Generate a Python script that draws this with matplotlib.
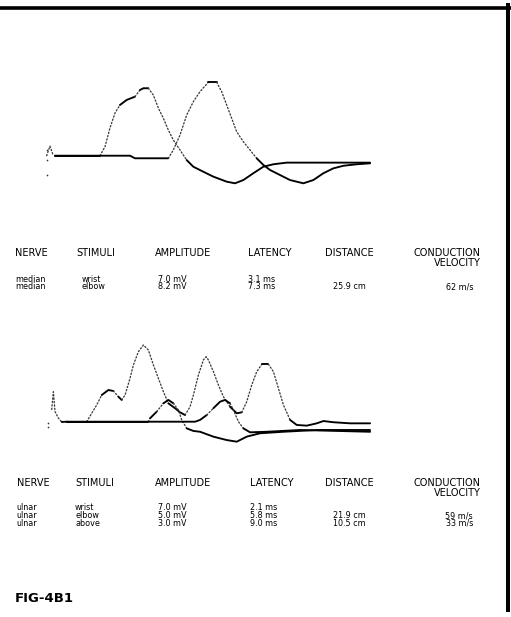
import matplotlib
matplotlib.use("Agg")
import matplotlib.pyplot as plt
import numpy as np

# ------------------------------------------------------------------
# Data (time in ms, amplitude in mV)
# ------------------------------------------------------------------
# Median nerve
median_wrist_t = [0.4, 3.1, 3.4, 3.7, 4.0, 4.3, 4.7, 5.2, 5.5, 5.7, 6.0, 6.3, 6.6, 6.9, 7.2,
                  7.5, 7.9, 8.3, 8.7, 9.3, 9.9, 10.7, 11.2, 11.7, 12.3, 12.9, 13.5, 14.3, 19.3]
median_wrist_a = [0, 0, 0.66, 2.04, 3.14, 3.73, 4.10, 4.34, 4.83, 4.96, 4.96, 4.46, 3.51, 2.76, 1.89,
                  1.15, 0.42, -0.32, -0.81, -1.18, -1.54, -1.91, -2.03, -1.79, -1.29, -0.81, -0.63, -0.51, -0.51]
median_elbow_t = [0.4, 4.9, 5.2, 7.2, 7.5, 7.9, 8.3, 8.7, 9.1, 9.6, 10.1, 10.4, 10.7, 11.0, 11.3,
                  11.7, 12.1, 12.5, 12.9, 13.3, 13.9, 14.5, 15.3, 15.9, 16.5, 17.1, 17.7, 18.5, 19.3]
median_elbow_a = [0, 0, -0.19, -0.19, 0.42, 1.52, 2.99, 3.97, 4.71, 5.40, 5.40, 4.71, 3.73, 2.75, 1.76,
                  1.03, 0.42, -0.19, -0.68, -1.05, -1.42, -1.79, -2.03, -1.79, -1.29, -0.93, -0.74, -0.63, -0.56]
median_artifact_t = [-0.1, 0.1, 0.3]
median_artifact_a = [0.0, 0.71, 0.0]
median_dots_t = [-0.1, -0.1, -0.1]
median_dots_a = [0.42, -0.32, -1.42]

# Ulnar nerve
ulnar_wrist_t = [0.9, 2.1, 2.4, 2.7, 3.0, 3.4, 3.7, 4.0, 4.2, 4.4, 4.7, 4.9, 5.2, 5.5, 5.8, 6.1, 6.4,
                 6.7, 7.0, 7.4, 7.7, 8.0, 8.3, 8.5, 8.8, 9.1, 9.27, 9.4, 9.7, 10.0, 10.3, 10.7, 11.1,
                 11.4, 11.7, 12.0, 12.3, 12.6, 13.0, 13.3, 13.6, 13.9, 14.3, 14.7, 15.3, 15.9, 16.3,
                 16.9, 17.9, 19.1]
ulnar_wrist_a = [0, 0, 0.62, 1.23, 1.96, 2.33, 2.26, 1.84, 1.60, 1.96, 3.19, 4.17, 5.15, 5.64, 5.27,
                 4.17, 3.19, 2.21, 1.35, 0.99, 0.69, 0.49, 1.10, 1.96, 3.43, 4.54, 4.78, 4.54, 3.68,
                 2.70, 1.84, 1.10, 0.62, 0.69, 1.47, 2.70, 3.68, 4.22, 4.22, 3.68, 2.46, 1.23, 0.13,
                 -0.24, -0.29, -0.12, 0.05, -0.04, -0.12, -0.12]
ulnar_elbow_t = [0.9, 5.8, 5.9, 6.3, 6.7, 7.0, 7.3, 7.6, 7.8, 8.1, 8.5, 8.9, 9.7, 10.5, 11.1, 11.7,
                 12.5, 13.9, 15.9, 19.1]
ulnar_elbow_a = [0, 0, 0.25, 0.74, 1.35, 1.60, 1.35, 0.86, 0.13, -0.49, -0.68, -0.74, -1.10, -1.35,
                 -1.47, -1.10, -0.85, -0.74, -0.61, -0.61]
ulnar_above_t = [0.9, 8.6, 8.9, 9.3, 9.7, 10.1, 10.4, 10.7, 10.9, 11.2, 11.5, 11.9, 12.9, 14.9, 19.1]
ulnar_above_a = [0, 0, 0.13, 0.49, 0.99, 1.47, 1.60, 1.35, 0.86, 0, -0.49, -0.78, -0.74, -0.61, -0.74]
ulnar_artifact_t = [0.0, 0.1, 0.2, 0.4, 0.6, 0.9]
ulnar_artifact_a = [0.9, 2.2, 0.74, 0.27, -0.02, 0.0]
ulnar_dots_t = [-0.2, -0.2]
ulnar_dots_a = [-0.10, -0.37]

# Tables
headers = ["NERVE", "STIMULI", "AMPLITUDE", "LATENCY", "DISTANCE", "CONDUCTION\nVELOCITY"]
median_nerve = ["median", "median"]
median_stimuli = ["wrist", "elbow"]
median_amplitude = ["7.0 mV", "8.2 mV"]
median_latency = ["3.1 ms", "7.3 ms"]
median_distance = ["", "25.9 cm"]
median_velocity = ["", "62 m/s"]

ulnar_nerve = ["ulnar", "ulnar", "ulnar"]
ulnar_stimuli = ["wrist", "elbow", "above"]
ulnar_amplitude = ["7.0 mV", "5.0 mV", "3.0 mV"]
ulnar_latency = ["2.1 ms", "5.8 ms", "9.0 ms"]
ulnar_distance = ["", "21.9 cm", "10.5 cm"]
ulnar_velocity = ["", "59 m/s", "33 m/s"]

fig_label = "FIG-4B1"

# ------------------------------------------------------------------
# Layout
# ------------------------------------------------------------------
W, H = 511, 617
PX_PER_MS = 16.67
PX_PER_MV = 13.6

fig = plt.figure(figsize=(W / 100, H / 100), dpi=100)
fig.patch.set_facecolor("white")

bg = fig.add_axes([0, 0, 1, 1], zorder=0)
bg.set_xlim(0, W)
bg.set_ylim(H, 0)
bg.axis("off")

# scanned frame lines (top and right)
bg.plot([0, W], [7.6, 7.6], color="black", lw=2.6, solid_capstyle="butt")
bg.plot([508.2, 508.2], [3, 612], color="black", lw=2.9, solid_capstyle="butt")


def make_wave_axes(left_px, right_px, top_px, bottom_px, t0_px, base_px):
    ax = fig.add_axes([left_px / W, 1 - bottom_px / H,
                       (right_px - left_px) / W, (bottom_px - top_px) / H], zorder=2)
    ax.set_xlim((left_px - t0_px) / PX_PER_MS, (right_px - t0_px) / PX_PER_MS)
    ax.set_ylim((base_px - bottom_px) / PX_PER_MV, (base_px - top_px) / PX_PER_MV)
    ax.axis("off")
    ax.patch.set_alpha(0)
    return ax


def draw_trace(ax, t, a, slope_limit=1.0):
    t = np.asarray(t, dtype=float)
    a = np.asarray(a, dtype=float)
    dx = np.diff(t) * PX_PER_MS
    dy = np.diff(a) * PX_PER_MV
    steep = np.abs(dy) > slope_limit * np.abs(dx)
    start = 0
    n = len(steep)
    for i in range(1, n + 1):
        if i == n or steep[i] != steep[start]:
            st, sa = t[start:i + 1], a[start:i + 1]
            if steep[start]:
                ax.plot(st, sa, color="#3a3a3a", lw=0.95, ls=(0, (1.0, 1.6)),
                        dash_capstyle="round")
            else:
                ax.plot(st, sa, color="black", lw=1.35, solid_capstyle="round",
                        solid_joinstyle="round")
            start = i


# Median waveforms
ax1 = make_wave_axes(40, 380, 70, 200, t0_px=48.3, base_px=155.7)
draw_trace(ax1, median_wrist_t, median_wrist_a)
draw_trace(ax1, median_elbow_t, median_elbow_a)
draw_trace(ax1, median_artifact_t, median_artifact_a)
ax1.scatter(median_dots_t, median_dots_a, s=1.5, color="#333", linewidths=0)

# Ulnar waveforms
ax2 = make_wave_axes(40, 380, 330, 450, t0_px=51.7, base_px=421.7)
draw_trace(ax2, ulnar_wrist_t, ulnar_wrist_a)
draw_trace(ax2, ulnar_elbow_t, ulnar_elbow_a)
draw_trace(ax2, ulnar_above_t, ulnar_above_a)
draw_trace(ax2, ulnar_artifact_t, ulnar_artifact_a)
ax2.scatter(ulnar_dots_t, ulnar_dots_a, s=1.5, color="#333", linewidths=0)

# Tables
FONT = "DejaVu Sans"
HFS = 7.0
RFS = 5.8


def draw_table(header_y, row_y0, row_dy, header_x, row_x, cols):
    for k, h in enumerate(headers):
        if "\n" in h:
            l1, l2 = h.split("\n")
            bg.text(481, header_y, l1, ha="right", va="center", fontsize=HFS, family=FONT)
            bg.text(481, header_y + 9.5, l2, ha="right", va="center", fontsize=HFS, family=FONT)
        else:
            bg.text(header_x[k], header_y, h, ha="left", va="center", fontsize=HFS, family=FONT)
    nrows = len(cols[0])
    for r in range(nrows):
        y = row_y0 + r * row_dy
        for k, col in enumerate(cols):
            s = col[r]
            if not s:
                continue
            if k == 5:
                bg.text(473, y, s, ha="right", va="baseline", fontsize=RFS, family=FONT)
            else:
                bg.text(row_x[k], y, s, ha="left", va="baseline", fontsize=RFS, family=FONT)


# row positions given as text baselines
draw_table(253.3, 281.8, 7.6,
           [15, 76.7, 155, 248, 325],
           [15, 82, 158, 248, 333],
           [median_nerve, median_stimuli, median_amplitude, median_latency,
            median_distance, median_velocity])

draw_table(483.3, 510.5, 7.6,
           [16.7, 75, 155, 250, 325],
           [16.7, 75, 158, 250, 333],
           [ulnar_nerve, ulnar_stimuli, ulnar_amplitude, ulnar_latency,
            ulnar_distance, ulnar_velocity])

bg.text(15, 598.3, fig_label, ha="left", va="center", fontsize=9.5,
        fontweight="bold", family=FONT)

fig.savefig("out.png", dpi=100, facecolor="white")
